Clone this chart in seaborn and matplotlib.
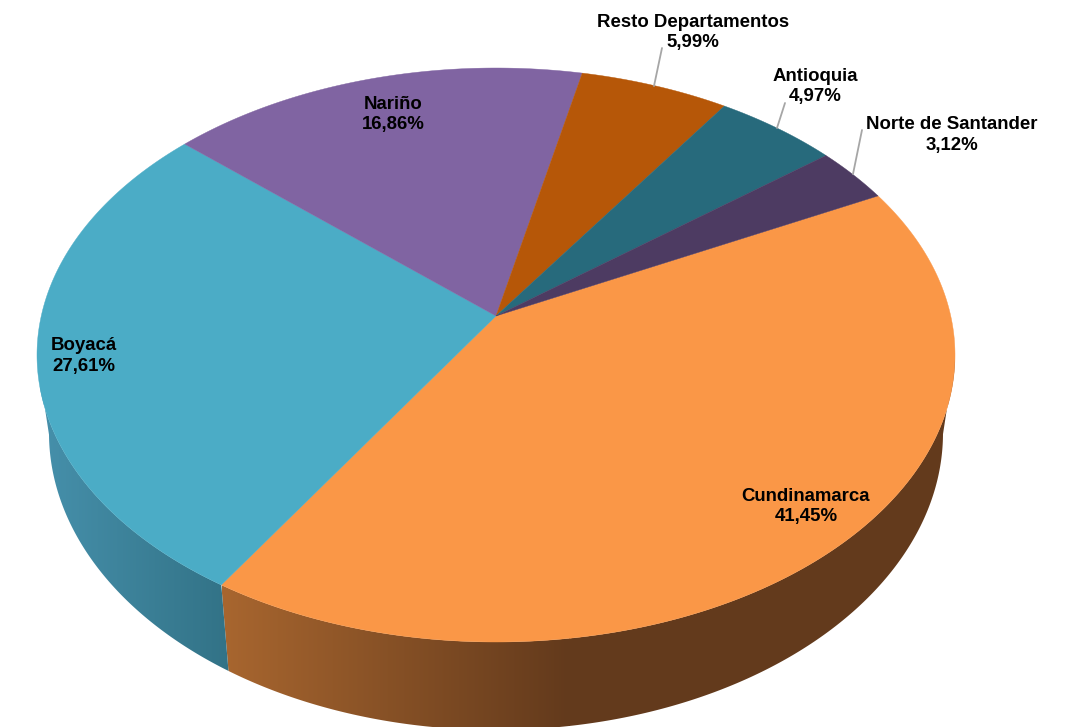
import numpy as np
import matplotlib
matplotlib.use("Agg")
import matplotlib.pyplot as plt
from matplotlib.patches import Polygon
import seaborn as sns

# clockwise from the top right, same order as the slices in the picture
departamentos = ["Cundinamarca", "Boyacá", "Nariño", "Resto Departamentos", "Antioquia", "Norte de Santander"]
porcentajes = [41.45, 27.61, 16.86, 5.99, 4.97, 3.12]
colores = ["#FA9747", "#4BACC6", "#8064A2", "#B65708", "#276A7C", "#4D3B62"]

# ellipse of the top face and of the bottom rim, in pixels
CX, CY, RX, RY = 496, 355, 459, 287
BX, BY, BRX, BRY = 496, 433, 447, 297
TILT = -0.136   # moves the apex up from the ellipse centre
START = -26.9

# label centre and leader line for each slice
label_pos = {
    "Cundinamarca": (806, 506.5),
    "Boyacá": (84, 356),
    "Nariño": (393, 114.5),
    "Resto Departamentos": (693, 32.5),
    "Antioquia": (815, 86.5),
    "Norte de Santander": (952, 135),
}
leaders = {
    "Resto Departamentos": ((654, 86), (662, 48)),
    "Antioquia": ((777, 128), (785, 103)),
    "Norte de Santander": ((853, 174), (862, 130)),
}
# wall shading: colour at the left and right end, x range of the ramp
wall_ramps = {
    "Cundinamarca": ("#A8662F", "#633A1C", 222, 570),
    "Boyacá": ("#4690AB", "#327286", 40, 232),
}


def project(deg, cx=CX, cy=CY, rx=RX, ry=RY):
    # circle seen in perspective: same ellipse, apex off centre
    t = np.radians(deg)
    X, Y = np.cos(t), np.sin(t)
    d = 1 + TILT * Y
    u = np.sqrt(1 - TILT ** 2) * X / d
    v = (Y + TILT) / d
    return cx + rx * u, cy + ry * v, v


sns.set_style("white")
plt.rcParams["font.family"] = ["Liberation Sans", "DejaVu Sans"]
fig = plt.figure(figsize=(10.73, 7.27), dpi=100)
ax = fig.add_axes([0, 0, 1, 1])

angles = START + np.concatenate([[0], np.cumsum(porcentajes)]) * 3.6
apex = (CX, CY + RY * TILT)

# walls first, the top face covers their upper edge
for i, name in enumerate(departamentos):
    if name not in wall_ramps:
        continue
    th = np.linspace(angles[i], angles[i + 1], 300)
    xt, yt, v = project(th)
    xb, yb, _ = project(th, BX, BY, BRX, BRY)
    keep = v >= 0
    pts = np.vstack([np.column_stack([xt[keep], yt[keep]]),
                     np.column_stack([xb[keep], yb[keep]])[::-1]])
    left, right, x0, x1 = wall_ramps[name]
    ramp = np.array(sns.blend_palette([left, right], 256))[None, :, :]
    patch = Polygon(pts, closed=True, fc="none", ec="none")
    ax.add_patch(patch)
    img = ax.imshow(ramp, extent=(x0, x1, 740, 300), aspect="auto", interpolation="bilinear", zorder=1)
    img.set_clip_path(patch)
    # flat colour past the end of the ramp
    if name == "Cundinamarca":
        img2 = ax.imshow(np.array(sns.blend_palette([right, right], 2))[None, :, :],
                         extent=(x1 - 1, 1000, 740, 300), aspect="auto", zorder=1)
        img2.set_clip_path(patch)

# top face
for i, name in enumerate(departamentos):
    th = np.linspace(angles[i], angles[i + 1], 300)
    xt, yt, _ = project(th)
    pts = np.vstack([[apex], np.column_stack([xt, yt])])
    ax.add_patch(Polygon(pts, closed=True, fc=colores[i], ec=colores[i], lw=0.3, zorder=2))

for name, (p0, p1) in leaders.items():
    ax.plot([p0[0], p1[0]], [p0[1], p1[1]], color="#A6A6A6", lw=1.3, zorder=3)

for name, val in zip(departamentos, porcentajes):
    x, y = label_pos[name]
    txt = name + "\n" + f"{val:.2f}".replace(".", ",") + "%"
    ax.text(x, y, txt, ha="center", va="center", fontsize=13.4, fontweight="bold",
            color="black", linespacing=1.25, zorder=4)

ax.set_xlim(0, 1073)
ax.set_ylim(727, 0)
ax.axis("off")
fig.savefig("out.png", dpi=100, facecolor="white")
